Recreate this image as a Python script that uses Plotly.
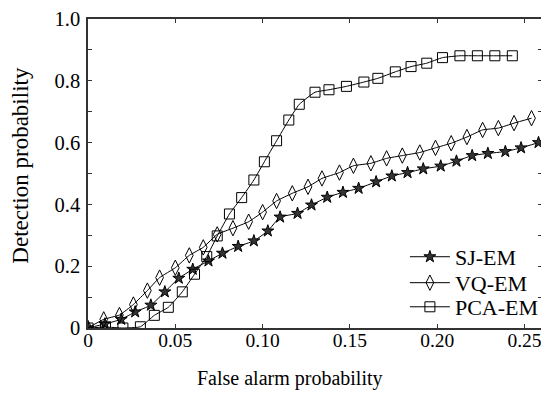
import plotly.graph_objects as go

# SJ-EM
sj_x = [0.0, 0.0097, 0.019, 0.027, 0.036, 0.044, 0.052, 0.060, 0.069, 0.077, 0.086, 0.095,
        0.103, 0.110, 0.120, 0.128, 0.137, 0.146, 0.155, 0.165, 0.174, 0.183, 0.192, 0.202,
        0.211, 0.220, 0.229, 0.239, 0.248, 0.258]
sj_y = [0.0, 0.013, 0.028, 0.052, 0.074, 0.117, 0.161, 0.190, 0.217, 0.242, 0.264, 0.282,
        0.314, 0.359, 0.371, 0.398, 0.423, 0.439, 0.452, 0.473, 0.492, 0.503, 0.515, 0.524,
        0.540, 0.558, 0.565, 0.571, 0.583, 0.600]

# VQ-EM
vq_x = [0.0, 0.009, 0.018, 0.026, 0.034, 0.041, 0.050, 0.058, 0.066, 0.074, 0.083, 0.092,
        0.100, 0.108, 0.117, 0.126, 0.134, 0.144, 0.152, 0.162, 0.171, 0.180, 0.190, 0.199,
        0.208, 0.217, 0.226, 0.235, 0.244, 0.254]
vq_y = [0.0, 0.028, 0.042, 0.076, 0.121, 0.163, 0.195, 0.235, 0.261, 0.303, 0.323, 0.344,
        0.375, 0.411, 0.436, 0.457, 0.484, 0.503, 0.525, 0.533, 0.549, 0.558, 0.568, 0.583,
        0.598, 0.618, 0.641, 0.647, 0.663, 0.679]

# PCA-EM
pca_x = [0.0, 0.010, 0.020, 0.030, 0.038, 0.046, 0.054, 0.061, 0.068, 0.074, 0.081, 0.088,
         0.095, 0.101, 0.108, 0.115, 0.121, 0.130, 0.138, 0.148, 0.158, 0.166, 0.176, 0.185,
         0.194, 0.203, 0.213, 0.223, 0.233, 0.243]
pca_y = [0.0, 0.003, 0.0, 0.004, 0.041, 0.067, 0.117, 0.174, 0.231, 0.298, 0.369, 0.422,
         0.479, 0.538, 0.606, 0.673, 0.724, 0.763, 0.771, 0.782, 0.796, 0.808, 0.829, 0.846,
         0.857, 0.875, 0.881, 0.881, 0.881, 0.881]

x_ticks = [0, 0.05, 0.10, 0.15, 0.20, 0.25]
x_labels = ["0", "0.05", "0.10", "0.15", "0.20", "0.25"]
y_ticks = [0, 0.1, 0.2, 0.3, 0.4, 0.5, 0.6, 0.7, 0.8, 0.9, 1.0]
y_labels = ["0", "", "0.2", "", "0.4", "", "0.6", "", "0.8", "", "1.0"]
x_title = "False alarm probability"
y_title = "Detection probability"

FONT = "Times New Roman"
line = dict(color="black", width=1.0, shape="spline", smoothing=0.4)

fig = go.Figure()
fig.add_trace(go.Scatter(x=sj_x, y=sj_y, name="SJ-EM", mode="lines+markers", line=line,
                         legend="legend",
                         marker=dict(symbol="star", size=9, color="#333333",
                                     line=dict(color="black", width=1))))
fig.add_trace(go.Scatter(x=vq_x, y=vq_y, name="VQ-EM", mode="lines+markers", line=line,
                         legend="legend2",
                         marker=dict(symbol="diamond-tall-open", size=11, color="black",
                                     line=dict(width=1))))
fig.add_trace(go.Scatter(x=pca_x, y=pca_y, name="PCA-EM", mode="lines+markers", line=line,
                         legend="legend3",
                         marker=dict(symbol="square-open", size=10, color="black",
                                     line=dict(width=1))))

axis_common = dict(showgrid=False, zeroline=False, showline=True, linecolor="#333333",
                   linewidth=1.5, mirror="ticks", ticks="inside", ticklen=4, automargin=False,
                   tickcolor="#333333")

fig.update_xaxes(range=[0, 0.26], tickvals=x_ticks, ticktext=x_labels,
                 ticklabelstandoff=-6,
                 tickfont=dict(family=FONT, size=19.5, color="black"),
                 **axis_common)
fig.update_yaxes(range=[0, 1.0], tickvals=y_ticks, ticktext=y_labels,
                 ticklabelstandoff=2,
                 tickfont=dict(family=FONT, size=20.5, color="black"),
                 **axis_common)

fig.add_annotation(text=x_title, xref="paper", yref="paper", x=0.444, y=-0.162,
                   xanchor="center", yanchor="middle", showarrow=False,
                   font=dict(family=FONT, size=20, color="black"))
fig.add_annotation(text=y_title, xref="paper", yref="paper", x=-0.148, y=0.528,
                   xanchor="center", yanchor="middle", showarrow=False, textangle=-90,
                   font=dict(family=FONT, size=23, color="black"))

leg_common = dict(xanchor="left", yanchor="middle", x=0.698, itemwidth=40,
                  font=dict(family=FONT, size=22, color="black"),
                  bgcolor="rgba(0,0,0,0)", borderwidth=0)

# page body has an 8px margin, so the figure is sized/offset to compensate
fig.update_layout(
    width=541, height=385,
    margin=dict(l=80, r=7, t=11, b=65, autoexpand=False),
    plot_bgcolor="white", paper_bgcolor="white",
    font=dict(family=FONT, color="black"),
    legend=dict(y=0.230, **leg_common),
    legend2=dict(y=0.146, **leg_common),
    legend3=dict(y=0.068, **leg_common),
    showlegend=True,
)

fig.write_html("out.html")
